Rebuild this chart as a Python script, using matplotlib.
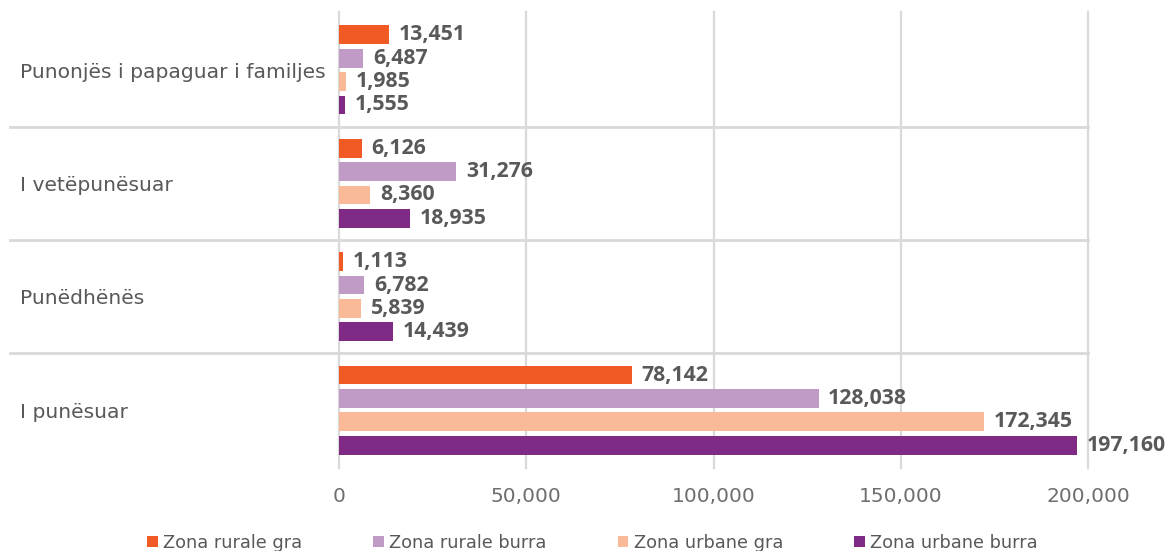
import matplotlib.pyplot as plt
import numpy as np

categories = ["Punonjës i papaguar i familjes", "I vetëpunësuar", "Punëdhënës", "I punësuar"]
series = ["Zona rurale gra", "Zona rurale burra", "Zona urbane gra", "Zona urbane burra"]
rural_women = [13451, 6126, 1113, 78142]
rural_men = [6487, 31276, 6782, 128038]
urban_women = [1985, 8360, 5839, 172345]
urban_men = [1555, 18935, 14439, 197160]
colors = ["#F15A24", "#C09BC5", "#FBBA97", "#7F2A85"]
ticks = [0, 50000, 100000, 150000, 200000]

values = [rural_women, rural_men, urban_women, urban_men]

fig = plt.figure(figsize=(11.66, 5.51), dpi=100)
ax = fig.add_axes([339 / 1166, 1 - 468 / 551, 749 / 1166, 456 / 551])

y = np.arange(len(categories))
step = 0.206
h = 0.165
for i, (vals, name, c) in enumerate(zip(values, series, colors)):
    pos = y + (i - 1.5) * step
    ax.barh(pos, vals, height=h, color=c, label=name, zorder=3)
    for p, v in zip(pos, vals):
        ax.annotate(f"{v:,}", (v, p), xytext=(7, 0), textcoords="offset points",
                    va="center", ha="left", fontsize=15.3, fontweight="bold",
                    family="Open Sans", color="#595959", zorder=5)

ax.set_xlim(0, 200000)
ax.set_ylim(3.51, -0.51)
ax.set_xticks(ticks)
ax.set_xticklabels([f"{t:,}" for t in ticks], fontsize=14.5, color="#6E6E6E")
ax.tick_params(axis="x", length=0, pad=14)
ax.set_yticks([])
for s in ax.spines.values():
    s.set_visible(False)
ax.grid(axis="x", color="#D9D9D9", linewidth=1.6, zorder=0)
for gl in ax.get_xgridlines():
    gl.set_clip_on(False)

# separators between groups
for b in [0.5, 1.5, 2.5]:
    ax.plot([-0.439, 1.0], [b, b], transform=ax.get_yaxis_transform(),
            color="#D9D9D9", linewidth=2, clip_on=False, zorder=1)

for yi, cat in zip(y, categories):
    ax.text(-0.426, yi + 0.02, cat, transform=ax.get_yaxis_transform(), ha="left",
            va="center", fontsize=14.6, color="#595959")

fig.legend(loc="center", bbox_to_anchor=(0.508, 0.0154), ncol=4, frameon=False,
           fontsize=12.8, handlelength=0.6, handleheight=0.6, handletextpad=0.3,
           columnspacing=4.0, labelcolor="#595959")

fig.savefig("out.png", dpi=100)
